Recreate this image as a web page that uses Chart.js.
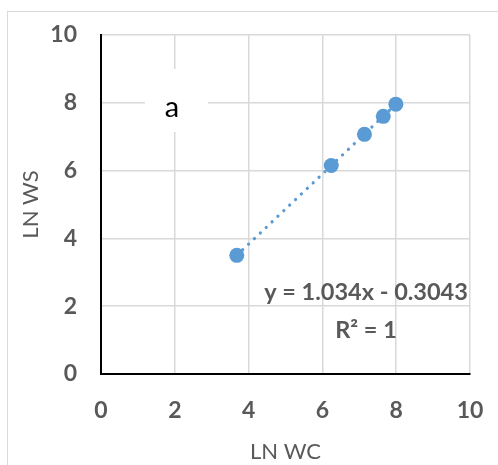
<!DOCTYPE html>
<html>
<head>
<meta charset="utf-8">
<script src="https://cdn.jsdelivr.net/npm/chart.js@4/dist/chart.umd.min.js"></script>
<style>
    html, body { margin: 0; padding: 0; background: #ffffff; overflow: hidden; }
    #wrap { position: relative; width: 498px; height: 465px; }
    #frame {
        position: absolute; left: 7px; top: 11px; width: 600px; height: 600px;
        border: 1.5px solid #d9d9d9; box-sizing: border-box;
    }
    #chart { position: absolute; left: 0; top: 0; }
</style>
</head>
<body>
<div id="wrap">
    <div id="frame"></div>
    <canvas id="chart" width="498" height="465"></canvas>
</div>
<script>
// LN WC vs LN WS measurements
const lnWC = [3.68, 6.24, 7.14, 7.65, 7.99];
const lnWS = [3.50, 6.15, 7.07, 7.60, 7.96];

// Linear fit shown in the equation label
const slope = 1.034;
const intercept = -0.3043;
const rSquared = 1;

const xTicks = [0, 2, 4, 6, 8, 10];
const yTicks = [0, 2, 4, 6, 8, 10];

const points = lnWC.map((x, i) => ({ x: x, y: lnWS[i] }));
const xMin = Math.min(...lnWC), xMax = Math.max(...lnWC);
const trend = [xMin, xMax].map(x => ({ x: x, y: slope * x + intercept }));

const grey = '#595959';
const blue = '#5b9bd5';
const fontFamily = 'Lato, "Open Sans", sans-serif';

// white "a" panel label plus the trendline equation
const annotations = {
    id: 'annotations',
    beforeDatasetsDraw(chart) {
        const ctx = chart.ctx;
        ctx.save();
        ctx.fillStyle = '#ffffff';
        ctx.fillRect(145, 69, 63, 63);
        ctx.fillStyle = '#000000';
        ctx.font = '29px ' + fontFamily;
        ctx.textAlign = 'center';
        ctx.textBaseline = 'alphabetic';
        ctx.fillText('a', 172, 117);
        ctx.restore();
    },
    afterDatasetsDraw(chart) {
        const ctx = chart.ctx;
        const sign = intercept < 0 ? ' - ' : ' + ';
        ctx.save();
        ctx.fillStyle = grey;
        ctx.font = 'bold 23.5px ' + fontFamily;
        ctx.textAlign = 'center';
        ctx.textBaseline = 'alphabetic';
        ctx.fillText('y = ' + slope + 'x' + sign + Math.abs(intercept), 366, 300);
        ctx.fillText('R\u00b2 = ' + rSquared, 366, 338);
        ctx.restore();
    }
};

new Chart(document.getElementById('chart'), {
    type: 'scatter',
    data: {
        datasets: [
            {
                label: 'trend',
                type: 'line',
                data: trend,
                borderColor: blue,
                borderWidth: 3.2,
                borderDash: [0.1, 8],
                borderCapStyle: 'round',
                pointRadius: 0,
                fill: false
            },
            {
                label: 'LN WS',
                data: points,
                backgroundColor: blue,
                borderColor: blue,
                borderWidth: 0,
                pointRadius: 7.5,
                pointHoverRadius: 7.5
            }
        ]
    },
    options: {
        responsive: false,
        animation: false,
        events: [],
        layout: { padding: { top: 35, right: 28, bottom: 0, left: 0 } },
        plugins: {
            legend: { display: false },
            tooltip: { enabled: false }
        },
        scales: {
            x: {
                type: 'linear',
                min: 0,
                max: 10,
                afterBuildTicks: axis => { axis.ticks = xTicks.map(v => ({ value: v })); },
                afterFit: axis => {
                    axis.height = 91;
                    axis.paddingLeft = 0;
                    axis.paddingRight = 0;
                },
                grid: { color: '#d9d9d9', lineWidth: 1.5, drawTicks: false },
                border: { color: '#000000', width: 2 },
                ticks: {
                    color: grey,
                    padding: 23,
                    font: { family: fontFamily, size: 23, weight: 'bold' }
                },
                title: {
                    display: true,
                    text: 'LN WC',
                    color: grey,
                    padding: { top: 0, bottom: 0 },
                    font: { family: fontFamily, size: 22 }
                }
            },
            y: {
                type: 'linear',
                min: 0,
                max: 10,
                afterBuildTicks: axis => { axis.ticks = yTicks.map(v => ({ value: v })); },
                afterFit: axis => {
                    axis.width = 101;
                    axis.paddingTop = 0;
                    axis.paddingBottom = 0;
                },
                grid: { color: '#d9d9d9', lineWidth: 1.5, drawTicks: false },
                border: { color: '#000000', width: 2 },
                ticks: {
                    color: grey,
                    padding: 24,
                    font: { family: fontFamily, size: 23, weight: 'bold' }
                },
                title: {
                    display: true,
                    text: 'LN WS',
                    color: grey,
                    padding: { top: 18, bottom: 0 },
                    font: { family: fontFamily, size: 22 }
                }
            }
        }
    },
    plugins: [annotations]
});
</script>
</body>
</html>
